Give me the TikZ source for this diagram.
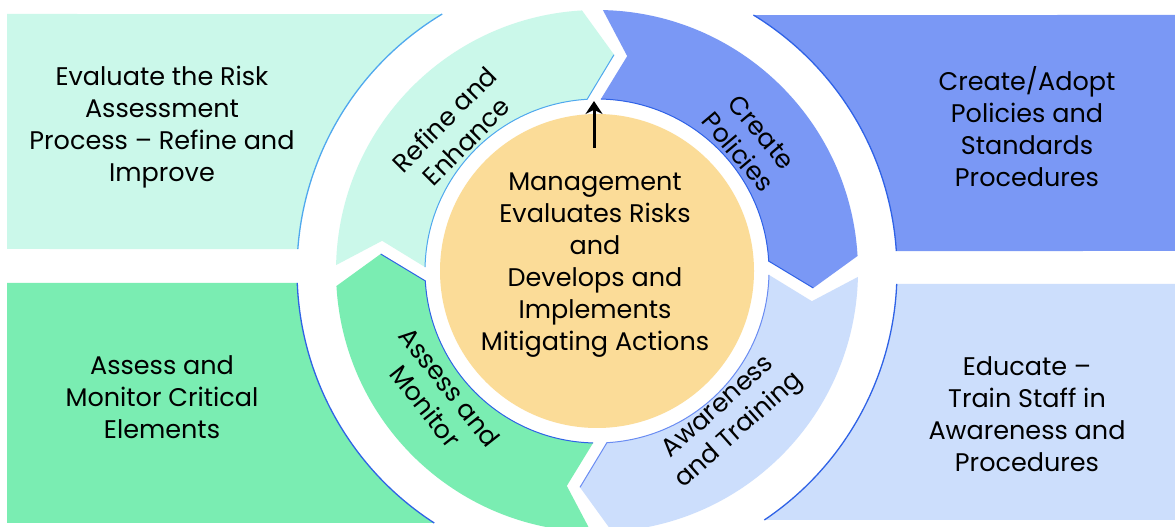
\documentclass[tikz,border=0pt]{standalone}
\usepackage{fontspec}
\setmainfont{Poppins}
\usetikzlibrary{arrows.meta}

\definecolor{mintc}{HTML}{CBF8EA}
\definecolor{greenc}{HTML}{7AEDB2}
\definecolor{bluec}{HTML}{7A98F5}
\definecolor{lbluec}{HTML}{CCDEFC}
\definecolor{orangec}{HTML}{FBDC98}
\definecolor{edgec}{HTML}{2F62E6}
\definecolor{edgelc}{HTML}{4FA8EE}
\definecolor{edgemc}{HTML}{6A8CF2}

\begin{document}
\begin{tikzpicture}[x=1pt,y=1pt,
  boxtext/.style={font=\fontsize{25.5}{32}\selectfont, align=center, text=black, inner sep=0pt},
  segtext/.style={font=\fontsize{25.5}{31}\selectfont, align=center, text=black, inner sep=0pt},
  rim/.style={line width=1.3pt},
  seam/.style={line width=1pt},
]
\useasboundingbox (0,0) rectangle (1175,527);
\fill[white] (0,0) rectangle (1175,527);

\begin{scope}[shift={(597,256)}]
  % outer boxes
  \fill[mintc] (-590,257) -- (121.07:300) arc[start angle=121.07,end angle=175.8,radius=300] -- (-590,22) -- cycle;
  \draw[edgelc,rim] (121.07:300) arc[start angle=121.07,end angle=175.8,radius=300];
  \fill[greenc] (-590,-12) -- (182.29:300) arc[start angle=182.29,end angle=237.14,radius=300] -- (-590,-252) -- cycle;
  \draw[edgec,rim] (182.29:300) arc[start angle=182.29,end angle=237.14,radius=300];
  \fill[bluec] (578,256) -- (58.57:300) arc[start angle=58.57,end angle=3.82,radius=300] -- (578,20) -- cycle;
  \draw[edgec,rim] (58.57:300) arc[start angle=58.57,end angle=3.82,radius=300];
  \fill[lbluec] (578,-13) -- (-2.48:300) arc[start angle=-2.48,end angle=-56.1,radius=300] -- (578,-249) -- cycle;
  \draw[edgec,rim] (-2.48:300) arc[start angle=-2.48,end angle=-56.1,radius=300];

  % ring segments (clockwise chevrons)
  \fill[mintc] (178.7:261) arc[start angle=178.7,end angle=93.3,radius=261] -- (85.5:217) -- (93.3:172) arc[start angle=93.3,end angle=178.7,radius=172] -- (172:217) -- cycle;
  \draw[edgelc,seam] (85.5:217) -- (93.3:172) arc[start angle=93.3,end angle=178.7,radius=172];

  \fill[bluec] (88.7:261) arc[start angle=88.7,end angle=3.3,radius=261] -- (-4.5:217) -- (3.3:172) arc[start angle=3.3,end angle=88.7,radius=172] -- (82:217) -- cycle;
  \draw[edgec,seam] (-4.5:217) -- (3.3:172) arc[start angle=3.3,end angle=88.7,radius=172];

  \fill[lbluec] (-1.3:261) arc[start angle=-1.3,end angle=-86.7,radius=261] -- (-94.5:217) -- (-86.7:172) arc[start angle=-86.7,end angle=-1.3,radius=172] -- (-8:217) -- cycle;
  \draw[edgemc,seam] (-94.5:217) -- (-86.7:172) arc[start angle=-86.7,end angle=-1.3,radius=172];

  \fill[greenc] (-91.3:261) arc[start angle=-91.3,end angle=-176.7,radius=261] -- (-184.5:217) -- (-176.7:172) arc[start angle=-176.7,end angle=-91.3,radius=172] -- (-98:217) -- cycle;
  \draw[edgec,seam] (-184.5:217) -- (-176.7:172) arc[start angle=-176.7,end angle=-91.3,radius=172];

  % segment labels
  \node[segtext, rotate=45.2] (refine) at (135.2:200) {Refine and\\Enhance};
  \node[segtext, rotate=-49.9] (create) at (40.1:200) {Create\\Policies};
  \node[segtext, rotate=41.7] (aware) at (-48.3:199) {Awareness\\and Training};
  \node[segtext, rotate=-51.7] (assess) at (218.3:203) {Assess and\\Monitor};
\end{scope}

% core
\node[circle, fill=orangec, minimum size=314pt, inner sep=0pt] (core) at (597,256) {};
\node[boxtext] (coretext) at (595,262) {Management\\Evaluates Risks\\and\\Develops and\\Implements\\Mitigating Actions};

\coordinate (arrbase) at (594,379);
\coordinate (arrtip) at (594,426);
\draw[line width=3pt, -{Stealth[length=13pt,width=17pt]}] (arrbase) -- (arrtip);

% box texts
\node[boxtext] (evaltext) at (162,400) {Evaluate the Risk\\Assessment\\Process – Refine and\\Improve};
\node[boxtext] (monitortext) at (162,130) {Assess and\\Monitor Critical\\Elements};
\node[boxtext] (policytext) at (1027,400) {Create/Adopt\\Policies and\\Standards\\Procedures};
\node[boxtext] (educatetext) at (1027,113) {Educate –\\Train Staff in\\Awareness and\\Procedures};
\end{tikzpicture}
\end{document}
